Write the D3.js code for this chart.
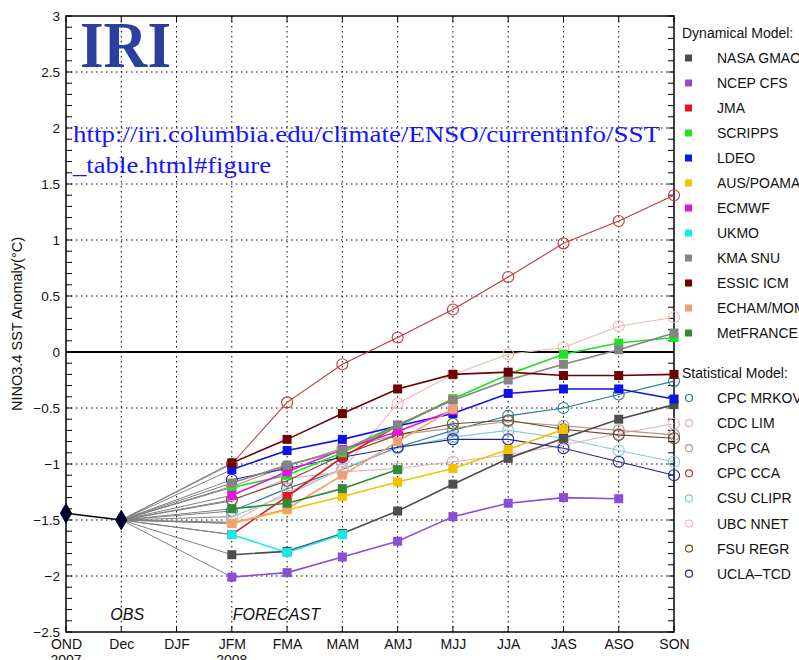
<!DOCTYPE html>
<html>
<head>
<meta charset="utf-8">
<script src="https://cdn.jsdelivr.net/npm/d3@7"></script>
<style>
  body { margin: 0; background: #fff; }
  #chart { width: 799px; height: 660px; }
  svg { font-family: "Liberation Sans", Helvetica, Arial, sans-serif; }
</style>
</head>
<body>
<div id="chart"></div>
<script>
// categories on the x axis
const seasons = ["OND", "Dec", "DJF", "JFM", "FMA", "MAM", "AMJ", "MJJ", "JJA", "JAS", "ASO", "SON"];
const year_labels = [["OND", "2007"], ["JFM", "2008"]];
const y_ticks = [3, 2.5, 2, 1.5, 1, 0.5, 0, -0.5, -1, -1.5, -2, -2.5];

// observed
const obs = [-1.44, -1.5];

// forecasts, JFM .. SON (null = no value)
const nasa_gmao = [-1.81, -1.78, -1.62, -1.42, -1.18, -0.95, -0.77, -0.60, -0.47];
const ncep_cfs = [-2.01, -1.97, -1.83, -1.69, -1.47, -1.35, -1.30, -1.31, null];
const jma = [-1.63, -1.29, -0.94, -0.66, -0.42, null, null, null, null];
const scripps = [-1.21, -1.10, -0.90, -0.66, -0.42, -0.20, -0.02, 0.08, 0.13];
const ldeo = [-1.05, -0.88, -0.78, -0.66, -0.55, -0.37, -0.33, -0.33, -0.42];
const aus_poama = [-1.53, -1.41, -1.29, -1.16, -1.04, -0.87, -0.69, null, null];
const ecmwf = [-1.28, -1.07, -0.87, -0.71, -0.52, null, null, null, null];
const ukmo = [-1.63, -1.79, -1.63, null, null, null, null, null, null];
const kma_snu = [-1.17, -1.01, -0.88, -0.65, -0.43, -0.25, -0.11, 0.02, 0.17];
const essic_icm = [-0.99, -0.78, -0.55, -0.33, -0.20, -0.18, -0.21, -0.21, -0.20];
const echam_mom = [-1.53, -1.40, -1.10, -0.80, -0.51, null, null, null, null];
const metfrance = [-1.40, -1.35, -1.22, -1.05, null, null, null, null, null];

const cpc_mrkov = [-1.42, -1.22, -1.05, -0.85, -0.70, -0.57, -0.50, -0.38, -0.26];
const cdc_lim = [-1.33, -1.13, -1.07, -1.04, -0.98, -0.92, -0.83, -0.73, -0.64];
const cpc_ca = [-1.20, -1.02, -0.86, -0.74, -0.68, -0.62, -0.66, -0.70, -0.74];
const cpc_cca = [-1.00, -0.45, -0.11, 0.13, 0.38, 0.67, 0.97, 1.17, 1.40];
const csu_clipr = [-1.47, -1.28, -1.04, -0.86, -0.76, -0.70, -0.77, -0.88, -0.98];
const ubc_nnet = [-1.52, -1.25, -1.05, -0.46, -0.20, -0.02, 0.04, 0.23, 0.31];
const fsu_regr = [-1.32, -1.15, -0.92, -0.74, -0.64, -0.61, -0.69, -0.74, -0.77];
const ucla_tcd = [-1.14, -1.04, -0.94, -0.85, -0.78, -0.78, -0.86, -0.98, -1.10];

const dyn_names = ["NASA GMAO", "NCEP CFS", "JMA", "SCRIPPS", "LDEO", "AUS/POAMA", "ECMWF", "UKMO", "KMA SNU", "ESSIC ICM", "ECHAM/MOM", "MetFRANCE"];
const dyn_colors = ["#4d4d4d", "#8a4fd6", "#e8141c", "#22e022", "#0a14e6", "#f2c200", "#e614e0", "#14eaea", "#858585", "#6e0000", "#f0a070", "#2f8a34"];
const dyn_values = [nasa_gmao, ncep_cfs, jma, scripps, ldeo, aus_poama, ecmwf, ukmo, kma_snu, essic_icm, echam_mom, metfrance];

const stat_names = ["CPC MRKOV", "CDC LIM", "CPC CA", "CPC CCA", "CSU CLIPR", "UBC NNET", "FSU REGR", "UCLA\u2013TCD"];
const stat_colors = ["#2a7a98", "#e4b0c0", "#b0988a", "#c43434", "#88c8d8", "#f0b8b0", "#6a4a28", "#24249a"];
const stat_values = [cpc_mrkov, cdc_lim, cpc_ca, cpc_cca, csu_clipr, ubc_nnet, fsu_regr, ucla_tcd];

const SERIF = "'Liberation Serif', 'Times New Roman', serif";

class PlumeChart {
  constructor(id) {
    this.div = id;
    this.margin = { left: 66, right: 125, top: 16, bottom: 28 };
    this.width = 799;
    this.height = 660;
    this.innerW = this.width - this.margin.left - this.margin.right;
    this.innerH = this.height - this.margin.top - this.margin.bottom;
  }

  add_svg() {
    const div = d3.select(`#${this.div}`);
    div.selectAll("*").remove();
    this.svg = div.append("svg").attr("width", this.width).attr("height", this.height);
    this.ChartArea = this.svg.append("g")
      .attr("transform", `translate(${this.margin.left},${this.margin.top})`);
  }

  add_scale() {
    this.x = d3.scalePoint().domain(seasons).range([0, this.innerW]);
    this.y = d3.scaleLinear().domain([-2.5, 3]).range([this.innerH, 0]);
  }

  add_grid() {
    const g = this.ChartArea.append("g");
    g.selectAll(".hgrid").data(y_ticks.filter(d => d > -2.5 && d < 3 && d !== 0))
      .join("line")
      .attr("x1", 0).attr("x2", this.innerW)
      .attr("y1", d => this.y(d)).attr("y2", d => this.y(d))
      .attr("stroke", "#000").attr("stroke-width", 1).attr("stroke-dasharray", "1.5,3.5");
    g.selectAll(".vgrid").data(seasons.slice(1, -1))
      .join("line")
      .attr("x1", d => this.x(d)).attr("x2", d => this.x(d))
      .attr("y1", 0).attr("y2", this.innerH)
      .attr("stroke", "#000").attr("stroke-width", 1).attr("stroke-dasharray", "1.5,3.5");
  }

  add_axis() {
    const minor = d3.range(-2.5, 3.0001, 0.1).map(d => +d.toFixed(1));
    const left = this.ChartArea.append("g")
      .call(d3.axisLeft(this.y).tickValues(y_ticks).tickSize(0).tickPadding(6)
        .tickFormat(d => d3.format("")(d).replace("-", "\u2212")));
    left.select(".domain").remove();
    left.selectAll("text").attr("font-size", 13.5).attr("fill", "#111");

    const bottom = this.ChartArea.append("g").attr("transform", `translate(0,${this.innerH})`)
      .call(d3.axisBottom(this.x).tickSize(0).tickPadding(7));
    bottom.select(".domain").remove();
    bottom.selectAll("text").attr("font-size", 14).attr("fill", "#111");
    bottom.selectAll(".year").data(year_labels).join("text")
      .attr("x", d => this.x(d[0])).attr("y", 33)
      .attr("text-anchor", "middle").attr("font-size", 14).attr("fill", "#111")
      .text(d => d[1]);
    left.attr("font-family", null);
    bottom.attr("font-family", null);

    // inward ticks on all four sides
    const t = this.ChartArea.append("g").attr("stroke", "#000").attr("stroke-width", 1);
    t.selectAll(".yl").data(minor).join("line")
      .attr("x1", 0).attr("x2", 6).attr("y1", d => this.y(d)).attr("y2", d => this.y(d));
    t.selectAll(".yr").data(minor).join("line")
      .attr("x1", this.innerW - 6).attr("x2", this.innerW).attr("y1", d => this.y(d)).attr("y2", d => this.y(d));
    t.selectAll(".xb").data(seasons).join("line")
      .attr("x1", d => this.x(d)).attr("x2", d => this.x(d)).attr("y1", this.innerH - 6).attr("y2", this.innerH);
    t.selectAll(".xt").data(seasons).join("line")
      .attr("x1", d => this.x(d)).attr("x2", d => this.x(d)).attr("y1", 0).attr("y2", 6);

    this.ChartArea.append("rect")
      .attr("width", this.innerW).attr("height", this.innerH)
      .attr("fill", "none").attr("stroke", "#000").attr("stroke-width", 1.5);

    // zero line
    this.ChartArea.append("line")
      .attr("x1", 0).attr("x2", this.innerW)
      .attr("y1", this.y(0)).attr("y2", this.y(0))
      .attr("stroke", "#000").attr("stroke-width", 2.2);
  }

  add_label() {
    this.svg.append("text")
      .attr("transform", `translate(22,${this.margin.top + this.innerH / 2}) rotate(-90)`)
      .attr("text-anchor", "middle").attr("font-size", 14.5).attr("fill", "#111")
      .text("NINO3.4 SST Anomaly(\u00B0C)");
    this.ChartArea.append("text")
      .attr("x", this.x("Dec") - 11).attr("y", this.innerH - 12)
      .attr("font-size", 16).attr("font-style", "italic").attr("fill", "#111").text("OBS");
    this.ChartArea.append("text")
      .attr("x", this.x("JFM") + 1).attr("y", this.innerH - 12)
      .attr("font-size", 16).attr("font-style", "italic").attr("fill", "#111").text("FORECAST");

    // logo and link
    this.svg.append("text").attr("x", 80).attr("y", 67)
      .style("font-family", SERIF)
      .attr("font-size", 66).attr("font-weight", "bold").attr("fill", "#2b3f9e")
      .attr("textLength", 91).attr("lengthAdjust", "spacingAndGlyphs")
      .text("IRI");
    this.svg.append("text").attr("x", 73).attr("y", 142)
      .style("font-family", SERIF)
      .attr("font-size", 23).attr("fill", "#1414ff")
      .attr("textLength", 587).attr("lengthAdjust", "spacingAndGlyphs")
      .text("http://iri.columbia.edu/climate/ENSO/currentinfo/SST");
    this.svg.append("text").attr("x", 73).attr("y", 173)
      .style("font-family", SERIF)
      .attr("font-size", 23).attr("fill", "#1414ff")
      .attr("textLength", 198).attr("lengthAdjust", "spacingAndGlyphs")
      .text("_table.html#figure");
  }

  series_points(vals) {
    return vals.map((v, i) => ({ s: seasons[i + 3], v })).filter(d => d.v !== null);
  }

  draw_chart() {
    const line = d3.line().x(d => this.x(d.s)).y(d => this.y(d.v));
    const all = dyn_values.map((v, i) => ({ pts: this.series_points(v), color: dyn_colors[i], kind: "sq" }))
      .concat(stat_values.map((v, i) => ({ pts: this.series_points(v), color: stat_colors[i], kind: "ci" })));

    // thin gray lines from last observation to the first forecast
    const links = this.ChartArea.append("g");
    all.forEach(d => {
      links.append("path")
        .attr("d", line([{ s: "Dec", v: obs[1] }, d.pts[0]]))
        .attr("fill", "none").attr("stroke", "#808080").attr("stroke-width", 1);
    });

    // statistical first, then dynamical on top
    const order = all.slice(12).concat(all.slice(0, 12));
    order.forEach(d => {
      const g = this.ChartArea.append("g");
      g.append("path").attr("d", line(d.pts))
        .attr("fill", "none").attr("stroke", d.color).attr("stroke-width", d.kind === "sq" ? 1.6 : 1.1);
      if (d.kind === "sq") {
        g.selectAll("rect").data(d.pts).join("rect")
          .attr("x", p => this.x(p.s) - 4.5).attr("y", p => this.y(p.v) - 4.5)
          .attr("width", 9).attr("height", 9).attr("fill", d.color);
      } else {
        g.selectAll("circle").data(d.pts).join("circle")
          .attr("cx", p => this.x(p.s)).attr("cy", p => this.y(p.v)).attr("r", 5.5)
          .attr("fill", "none").attr("stroke", d.color).attr("stroke-width", 1.1);
      }
    });

    // observations
    const obs_pts = obs.map((v, i) => ({ s: seasons[i], v }));
    this.ChartArea.append("path").attr("d", line(obs_pts))
      .attr("fill", "none").attr("stroke", "#000").attr("stroke-width", 1.4);
    this.ChartArea.selectAll(".obs").data(obs_pts).join("path")
      .attr("transform", p => `translate(${this.x(p.s)},${this.y(p.v)})`)
      .attr("d", d3.symbol().type(d3.symbolDiamond).size(110))
      .attr("fill", "#000033").attr("stroke", "#000033");
  }

  add_legend() {
    const lg = this.svg.append("g");
    const x0 = 682;
    const fs = 14;
    lg.append("text").attr("x", x0).attr("y", 38).attr("font-size", fs).attr("fill", "#111").text("Dynamical Model:");
    dyn_names.forEach((n, i) => {
      const cy = 58 + i * 25;
      lg.append("rect").attr("x", 685).attr("y", cy - 3.5).attr("width", 7).attr("height", 7).attr("fill", dyn_colors[i]);
      lg.append("text").attr("x", 717).attr("y", cy + 5).attr("font-size", fs).attr("fill", "#111").text(n);
    });
    lg.append("text").attr("x", x0).attr("y", 378).attr("font-size", fs).attr("fill", "#111").text("Statistical Model:");
    stat_names.forEach((n, i) => {
      const cy = 398 + i * 25.1;
      lg.append("circle").attr("cx", 689).attr("cy", cy).attr("r", 3.5)
        .attr("fill", "none").attr("stroke", stat_colors[i]).attr("stroke-width", 1.2);
      lg.append("text").attr("x", 717).attr("y", cy + 5).attr("font-size", fs).attr("fill", "#111").text(n);
    });
  }

  update_chart() {
    this.add_svg();
    this.add_scale();
    this.add_grid();
    this.add_axis();
    this.draw_chart();
    this.add_label();
    this.add_legend();
  }
}

new PlumeChart("chart").update_chart();
</script>
</body>
</html>
